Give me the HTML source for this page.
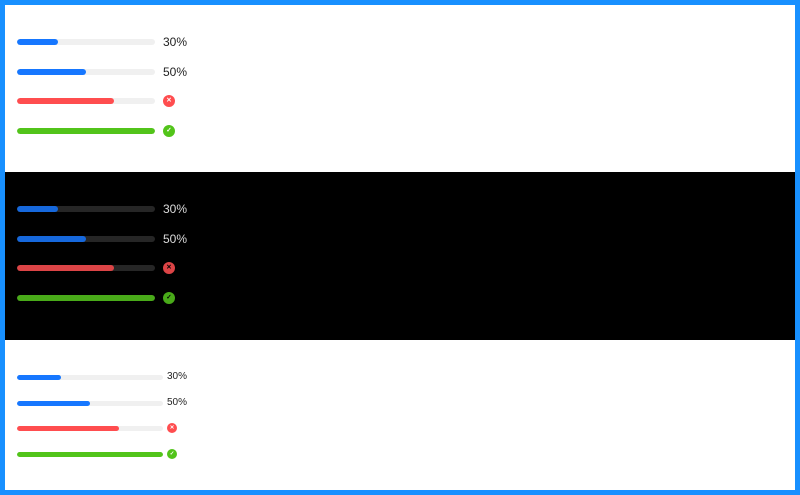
<!DOCTYPE html>
<html><head><meta charset="utf-8">
<style>
html,body{margin:0;padding:0;}
body{width:800px;height:495px;overflow:hidden;font-family:"Liberation Sans",sans-serif;}
#frame{position:absolute;left:0;top:0;width:790px;height:485px;border:5px solid #1890ff;background:#fff;}
.sec{position:absolute;left:0;width:790px;}
.row{position:absolute;left:12px;}
.track{position:absolute;border-radius:100px;overflow:hidden;}
.fill{position:absolute;left:0;top:0;height:100%;border-radius:100px;}
.txt{position:absolute;white-space:nowrap;}
.icon{position:absolute;border-radius:50%;color:#fff;text-align:center;font-weight:bold;}
</style></head>
<body>
<div id="frame">
  <div class="sec" id="s1" style="top:0;height:167px;background:#fff"></div>
  <div class="sec" id="s2" style="top:167px;height:168px;background:#000"></div>
  <div class="sec" id="s3" style="top:335px;height:150px;background:#fff"></div>
</div>
<script>
const percents = [30, 50, 70, 100];
const statuses = ["normal", "normal", "exception", "success"];

const themes = [
  {id:"s1", rowTops:[37,67,96,126], w:138, h:6, track:"#f0f0f0", blue:"#1677ff", red:"#ff4d4f", green:"#52c41a", text:"rgba(0,0,0,0.88)", fs:12, gap:8, ic:12},
  {id:"s2", rowTops:[37,67,96,126], w:138, h:6, track:"#262626", blue:"#1668dc", red:"#dc4446", green:"#49aa19", text:"rgba(255,255,255,0.85)", fs:12, gap:8, ic:12},
  {id:"s3", rowTops:[37,63,88,114], w:146, h:5, track:"#f0f0f0", blue:"#1677ff", red:"#ff4d4f", green:"#52c41a", text:"rgba(0,0,0,0.88)", fs:10, gap:4, ic:10}
];

themes.forEach(t => {
  const sec = document.getElementById(t.id);
  percents.forEach((p, i) => {
    const st = statuses[i];
    const color = st === "exception" ? t.red : st === "success" ? t.green : t.blue;
    const row = document.createElement('div');
    row.className = 'row';
    
    
    row.style.top = (t.rowTops[i] - 14) + 'px';
    row.style.height = '28px';
    row.style.width = '200px';
    const tr = document.createElement('div');
    tr.className = 'track';
    
    
    tr.style.cssText += `left:0;top:${14 - t.h/2}px;width:${t.w}px;height:${t.h}px;background:${t.track}`;
    const fl = document.createElement('div');
    fl.className = 'fill';
    
    
    fl.style.width = (t.w * p / 100) + 'px';
    fl.style.background = color;
    tr.appendChild(fl);
    row.appendChild(tr);
    const x = t.w + t.gap;
    if (st === "normal") {
      const tx = document.createElement('div');
      tx.className = 'txt';
      
      
      tx.textContent = p + '%';
      tx.style.cssText += `left:${x}px;top:${14 - t.fs*0.6}px;font-size:${t.fs}px;line-height:${t.fs*1.2}px;color:${t.text}`;
      row.appendChild(tx);
    } else {
      const ic = document.createElement('div');
      ic.className = 'icon';
      
      
      ic.textContent = st === "exception" ? '✕' : '✓';
      const d = t.ic;
      const fc = t.id === "s2" ? "#000" : "#fff";
      ic.style.cssText += `left:${x}px;top:${14 - d/2}px;width:${d}px;height:${d}px;line-height:${d}px;font-size:${d*0.55}px;background:${color};color:${fc}`;
      row.appendChild(ic);
    }
    sec.appendChild(row);
  });
});
</script>
</body></html>
